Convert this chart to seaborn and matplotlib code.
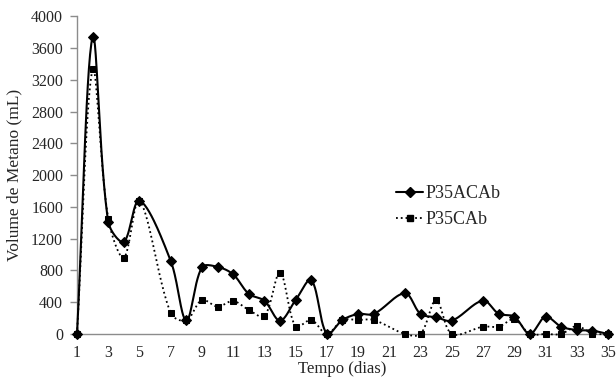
import numpy as np
import pandas as pd
import matplotlib
matplotlib.use("Agg")
import matplotlib.pyplot as plt
import seaborn as sns
from matplotlib.lines import Line2D

# ---- data ----
days = [1, 2, 3, 4, 5, 7, 8, 9, 10, 11, 12, 13, 14, 15, 16, 17, 18, 19, 20,
        22, 23, 24, 25, 27, 28, 29, 30, 31, 32, 33, 34, 35]
p35acab = [0, 3740, 1410, 1160, 1680, 920, 170, 840, 845, 750, 505, 418, 168,
           428, 680, 0, 176, 252, 252, 512, 252, 210, 168, 420, 255, 218, 0,
           218, 92, 50, 42, 0]
p35cab = [0, 3330, 1450, 960, 1680, 260, 170, 428, 344, 415, 302, 222, 771,
          92, 176, 0, 176, 176, 176, 0, 0, 428, 0, 92, 92, 185, 0, 0, 0, 100,
          5, 0]
series_names = ["P35ACAb", "P35CAb"]
x_ticks = list(range(1, 36, 2))
y_ticks = list(range(0, 4001, 400))
x_label = "Tempo (dias)"
y_label = "Volume de Metano (mL)"


def smooth(xs, ys, sx=15.6, sy=318 / 4000, n=30):
    """Excel-like smoothed line: Bezier segments with chord-weighted tangents."""
    P = np.column_stack([xs, ys]).astype(float)
    P = np.vstack([P[0], P, P[-1]])
    S = np.array([sx, sy])

    def d(a, b):
        return np.hypot(*((b - a) * S)) + 1e-9

    out = []
    t = np.linspace(0, 1, n)[:, None]
    for i in range(1, len(P) - 2):
        p0, p1, p2, p3 = P[i - 1], P[i], P[i + 1], P[i + 2]
        d01, d12, d23 = d(p0, p1), d(p1, p2), d(p2, p3)
        c1 = p1 + (p2 - p0) * (d12 / (d01 + d12)) / 3.0
        c2 = p2 - (p3 - p1) * (d12 / (d12 + d23)) / 3.0
        seg = ((1 - t) ** 3) * p1 + 3 * ((1 - t) ** 2) * t * c1 \
            + 3 * (1 - t) * t ** 2 * c2 + t ** 3 * p2
        out.append(seg if i == 1 else seg[1:])
    out = np.vstack(out)
    return out[:, 0], out[:, 1]


sns.set_theme(style="white")
plt.rcParams["font.family"] = ["Liberation Serif", "DejaVu Serif"]

fig = plt.figure(figsize=(6.16, 3.85), dpi=100)
ax = fig.add_axes([0.125, 0.1325, 0.862, 0.8255])

styles = {
    "P35ACAb": dict(ls="-", lw=1.5, marker="D", ms=4.8),
    "P35CAb": dict(ls=":", lw=1.3, marker="s", ms=4.6),
}

for name, vals in zip(series_names, [p35acab, p35cab]):
    st = styles[name]
    sx, sy = smooth(days, vals)
    df_line = pd.DataFrame({"x": sx, "y": sy})
    sns.lineplot(data=df_line, x="x", y="y", ax=ax, sort=False,
                 color="black", linewidth=st["lw"], linestyle=st["ls"],
                 estimator=None, clip_on=False, zorder=3)
    df_pts = pd.DataFrame({"x": days, "y": vals})
    sns.lineplot(data=df_pts, x="x", y="y", ax=ax, color="black",
                 linestyle="", marker=st["marker"], markersize=st["ms"],
                 markeredgecolor="black", estimator=None, clip_on=False,
                 zorder=4)

ax.set_xlim(1, 35)
ax.set_ylim(0, 4000)
ax.set_xticks(x_ticks)
ax.set_yticks(y_ticks)
ax.set_xticklabels([str(v) for v in x_ticks])
ax.set_yticklabels([str(v) for v in y_ticks])
ax.tick_params(axis="y", direction="out", length=5, width=1, color="#8c8c8c",
               labelsize=11.5, pad=5, left=True)
ax.tick_params(axis="x", length=0, labelsize=11.5, pad=8)
for s in ["top", "right"]:
    ax.spines[s].set_visible(False)
for s in ["left", "bottom"]:
    ax.spines[s].set_color("#8c8c8c")
    ax.spines[s].set_linewidth(1)
ax.set_xlabel(x_label, fontsize=12, labelpad=0)
ax.set_ylabel(y_label, fontsize=12.5, labelpad=6)

handles = [
    Line2D([], [], color="black", ls="-", lw=1.5, marker="D", ms=4.8),
    Line2D([], [], color="black", ls=":", lw=1.3, marker="s", ms=4.6),
]
fig.legend(handles, series_names, loc="upper left",
           bbox_to_anchor=(396 / 616, 1 - 185 / 385), frameon=False,
           fontsize=13, handlelength=1.5, handletextpad=0.15,
           labelspacing=0.5, borderaxespad=0, borderpad=0)

fig.savefig("out.png", dpi=100)
